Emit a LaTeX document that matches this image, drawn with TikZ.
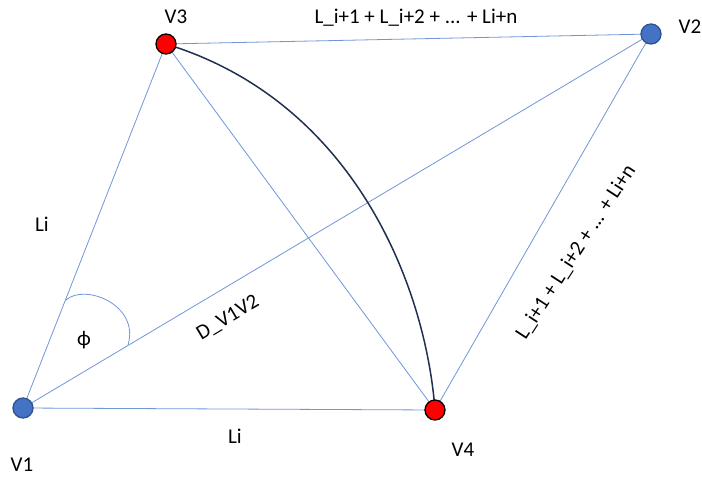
\documentclass[tikz,border=0pt]{standalone}
\usepackage{fontspec}
\setmainfont{Carlito}
\definecolor{edgeblue}{HTML}{7096D8}
\definecolor{vblue}{HTML}{4472C4}
\definecolor{vblueborder}{HTML}{2F528F}
\definecolor{curvenavy}{HTML}{203050}
\begin{document}
\begin{tikzpicture}[x=1pt,y=-1pt,
  vb/.style={circle,fill=vblue,draw=vblueborder,line width=1.3pt,minimum size=20pt,inner sep=0pt},
  vr/.style={circle,fill=red,draw=black,line width=1.3pt,minimum size=20pt,inner sep=0pt},
  edge/.style={draw=edgeblue,line width=0.8pt},
  lbl/.style={font=\fontsize{21}{25}\selectfont,inner sep=0pt}]
\useasboundingbox (0,0) rectangle (702,477);
\coordinate (c1) at (23,408);
\coordinate (c2) at (651,34);
\coordinate (c3) at (166,44);
\coordinate (c4) at (435,410);
\draw[edge] (c1) -- (c3);
\draw[edge] (c1) -- (c2);
\draw[edge] (c1) -- (c4);
\draw[edge] (c3) -- (c2);
\draw[edge] (c3) -- (c4);
\draw[edge] (c2) -- (c4);
\coordinate (a1) at (66,300);
\coordinate (a2) at (128,345);
\draw[edge] (a1) .. controls (85,283) and (140,305) .. (a2);
\draw[curvenavy,line width=1.5pt] (c3) .. controls (350,100) and (425,280) .. (c4);
\node[vb] (V1) at (c1) {};
\node[vb] (V2) at (c2) {};
\node[vr] (V3) at (c3) {};
\node[vr] (V4) at (c4) {};
\node[lbl] (t1) at (22,465) {V1};
\node[lbl] (t2) at (690,27) {V2};
\node[lbl] (t3) at (176,17) {V3};
\node[lbl] (t4) at (463,450) {V4};
\node[lbl] (li1) at (42,224) {Li};
\node[lbl] (li2) at (235,436) {Li};
\node[lbl] (phi) at (84,340) {ϕ};
\node[lbl,rotate=30.8] (d) at (228,318) {D\_V1V2};
\node[lbl] (top) at (416,18) {L\_i+1 + L\_i+2 + ... + Li+n};
\node[lbl,rotate=57] (side) at (576,252) {L\_i+1 + L\_i+2 + ... + Li+n};
\end{tikzpicture}
\end{document}
